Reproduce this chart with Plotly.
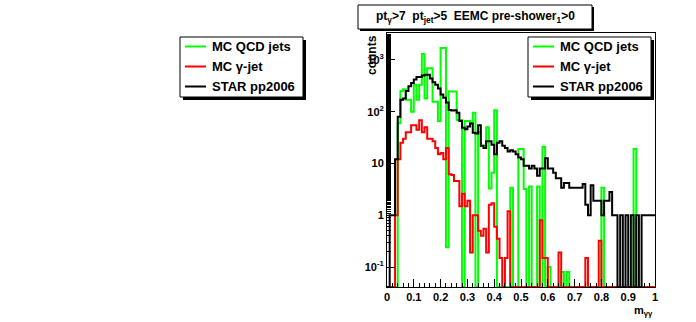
import numpy as np
import plotly.graph_objects as go

# ---------------- data (100 bins, 0..1) ----------------
bin_lo = 0.0
bin_hi = 1.0
n_bins = 100

mc_qcd = [
    0, 0, 0, 0, 60, 250, 270, 170, 170, 100,
    330, 170, 330, 1300, 180, 690, 690, 155, 155, 66,
    1700, 1700, 0.24, 245, 245, 245, 69, 69, 0, 66,
    66, 60, 95, 0, 40, 22, 22, 50, 3.3, 6.6,
    107, 0, 0, 0, 0, 0, 3.4, 0, 0, 19,
    19, 3.2, 0, 3.6, 0, 0, 3.6, 0, 21, 0,
    0.1, 0, 0, 0, 0, 0.08, 0, 0.08, 0, 0,
    0, 0, 0, 0, 0, 0, 0, 0, 0, 0,
    3.4, 0, 0, 0, 0, 0, 0, 0, 0, 0,
    0, 0, 19, 0, 0, 0, 0, 0, 0, 0,
]

mc_gamma = [
    0, 0, 0, 1, 12, 25, 30, 40, 40, 55,
    55, 45, 68, 40, 50, 30, 30, 27, 20, 15,
    16, 12, 20, 6.2, 6.0, 4.6, 4.6, 1.5, 2.6, 1.5,
    1.9, 0.19, 1.0, 1.0, 0.5, 0.4, 0.55, 0.19, 1.6, 1.7,
    0.6, 0.35, 0.15, 0, 0.15, 1.2, 0, 0, 0, 0,
    0, 0, 0, 0, 0, 0, 0, 0.8, 0.15, 0.15,
    0, 0, 0, 0, 0.19, 0, 0, 0, 0, 0,
    0, 0, 0, 0, 0.15, 0, 0, 0, 0, 0.32,
    0, 0, 0, 0, 0, 0, 0, 0, 0, 0,
    0, 0, 0, 0, 0, 0, 0, 0, 0, 0,
]

star_pp2006 = [
    0, 1, 1, 12, 80, 170, 180, 250, 310, 360,
    420, 470, 470, 500, 520, 520, 440, 370, 330, 280,
    215, 185, 150, 108, 105, 107, 95, 66, 49, 46,
    52, 59, 39, 38, 55, 22, 20, 27, 27, 23,
    15, 25, 27, 22, 20, 17, 18, 17, 15, 13,
    12, 9, 9, 8, 9, 8, 5.8, 8, 8, 12.6,
    8, 8, 6.6, 5.2, 5.2, 3.4, 4.2, 4.2, 3.4, 3.4,
    3.4, 3.4, 3.4, 4, 1.6, 1, 3.8, 1.9, 1.9, 1.9,
    1, 1.9, 1.9, 2.8, 1, 1, 0, 1, 0, 1,
    0, 1, 0, 1, 0, 1, 1, 1, 1, 1,
]

series_names = ["MC QCD jets", "MC \u03b3-jet", "STAR pp2006"]
series_colors = ["#00ff00", "#ff0000", "#000000"]

x_tick_vals = [0, 0.1, 0.2, 0.3, 0.4, 0.5, 0.6, 0.7, 0.8, 0.9, 1]
x_tick_text = ["0", "0.1", "0.2", "0.3", "0.4", "0.5", "0.6", "0.7", "0.8", "0.9", "1"]
y_tick_vals = [0.1, 1, 10, 100, 1000]
y_tick_text = ["10<sup>-1</sup>", "1", "10", "10<sup>2</sup>", "10<sup>3</sup>"]

title_text = "pt<sub>\u03b3</sub>>7  pt<sub>jet</sub>>5  EEMC pre-shower<sub>1</sub>>0"

# ---------------- layout geometry ----------------
W, H = 696, 322
ML, MR, MT, MB = 387, 41, 33, 35
PW, PH = W - ML - MR, H - MT - MB
ylog_min, ylog_max = -1.386, 3.52
floor_val = 10 ** ylog_min


def PX(x):
    return (x - ML) / PW


def PY(y):
    return (H - MB - y) / PH


edges = np.linspace(bin_lo, bin_hi, n_bins + 1)

fig = go.Figure()
for vals, name, col in zip([mc_qcd, mc_gamma, star_pp2006], series_names, series_colors):
    v = np.maximum(np.array(vals, dtype=float), floor_val)
    xs = np.concatenate([[edges[0]], edges[:-1], [edges[-1]]])
    ys = np.concatenate([[floor_val], v, [v[-1]]])
    fig.add_trace(go.Scatter(x=xs, y=ys, mode="lines", line_shape="hv",
                             line=dict(color=col, width=2), name=name,
                             showlegend=False, hoverinfo="skip"))

font_b = dict(family="Liberation Sans, Arial, sans-serif", color="black", weight="bold")

fig.update_layout(
    width=W, height=H,
    margin=dict(l=ML, r=MR, t=MT, b=MB, pad=0),
    paper_bgcolor="white", plot_bgcolor="white",
    showlegend=False,
    xaxis=dict(range=[0, 1], tickvals=x_tick_vals, ticktext=x_tick_text,
               ticks="inside", ticklen=8, tickwidth=1, tickcolor="black",
               minor=dict(ticks="inside", ticklen=4, dtick=0.02, tick0=0, tickcolor="black", showgrid=False),
               showgrid=False, zeroline=False, showline=True, linecolor="black",
               linewidth=1, mirror=True,
               tickfont=dict(size=11, **font_b)),
    yaxis=dict(type="log", range=[ylog_min, ylog_max], tickvals=y_tick_vals,
               ticktext=y_tick_text, ticks="inside", ticklen=8, tickwidth=1,
               tickcolor="black",
               minor=dict(ticks="inside", ticklen=4, tickcolor="black", showgrid=False),
               showgrid=False, zeroline=False, showline=True, linecolor="black",
               linewidth=1, mirror=True,
               tickfont=dict(size=11, **font_b)),
)

shapes = []
annotations = []

# title box with shadow
tb = (358, 5, 592, 29)
shapes.append(dict(type="rect", xref="paper", yref="paper",
                   x0=PX(tb[0] + 2), x1=PX(tb[2] + 2), y0=PY(tb[1] + 2), y1=PY(tb[3] + 2),
                   fillcolor="black", line=dict(width=0)))
shapes.append(dict(type="rect", xref="paper", yref="paper",
                   x0=PX(tb[0]), x1=PX(tb[2]), y0=PY(tb[1]), y1=PY(tb[3]),
                   fillcolor="white", line=dict(color="black", width=1)))
annotations.append(dict(xref="paper", yref="paper", x=PX((tb[0] + tb[2]) / 2), y=PY(17),
                        text=title_text, showarrow=False, xanchor="center", yanchor="middle",
                        font=dict(size=12, **font_b)))

# two legend boxes (left pad and inside plot)
for lx in (180, 528):
    box = (lx, 37, lx + 123, 97)
    shapes.append(dict(type="rect", xref="paper", yref="paper",
                       x0=PX(box[0] + 3), x1=PX(box[2] + 3), y0=PY(box[1] + 3), y1=PY(box[3] + 3),
                       fillcolor="black", line=dict(width=0)))
    shapes.append(dict(type="rect", xref="paper", yref="paper",
                       x0=PX(box[0]), x1=PX(box[2]), y0=PY(box[1]), y1=PY(box[3]),
                       fillcolor="white", line=dict(color="black", width=1)))
    for i, (name, col) in enumerate(zip(series_names, series_colors)):
        yy = 46.5 + i * 20
        shapes.append(dict(type="line", xref="paper", yref="paper",
                           x0=PX(lx + 5), x1=PX(lx + 26), y0=PY(yy), y1=PY(yy),
                           line=dict(color=col, width=2)))
        annotations.append(dict(xref="paper", yref="paper", x=PX(lx + 30), y=PY(yy),
                                text=name, showarrow=False, xanchor="left", yanchor="middle",
                                font=dict(size=13, **font_b)))

# axis titles
annotations.append(dict(xref="paper", yref="paper", x=PX(372), y=PY(33),
                        text="counts", textangle=-90, showarrow=False,
                        xanchor="center", yanchor="top", font=dict(size=12, **font_b)))
annotations.append(dict(xref="paper", yref="paper", x=PX(655), y=PY(311),
                        text="m<sub>\u03b3\u03b3</sub>", showarrow=False,
                        xanchor="right", yanchor="middle", font=dict(size=11, **font_b)))

fig.update_layout(shapes=shapes, annotations=annotations)
fig.write_html("out.html")
